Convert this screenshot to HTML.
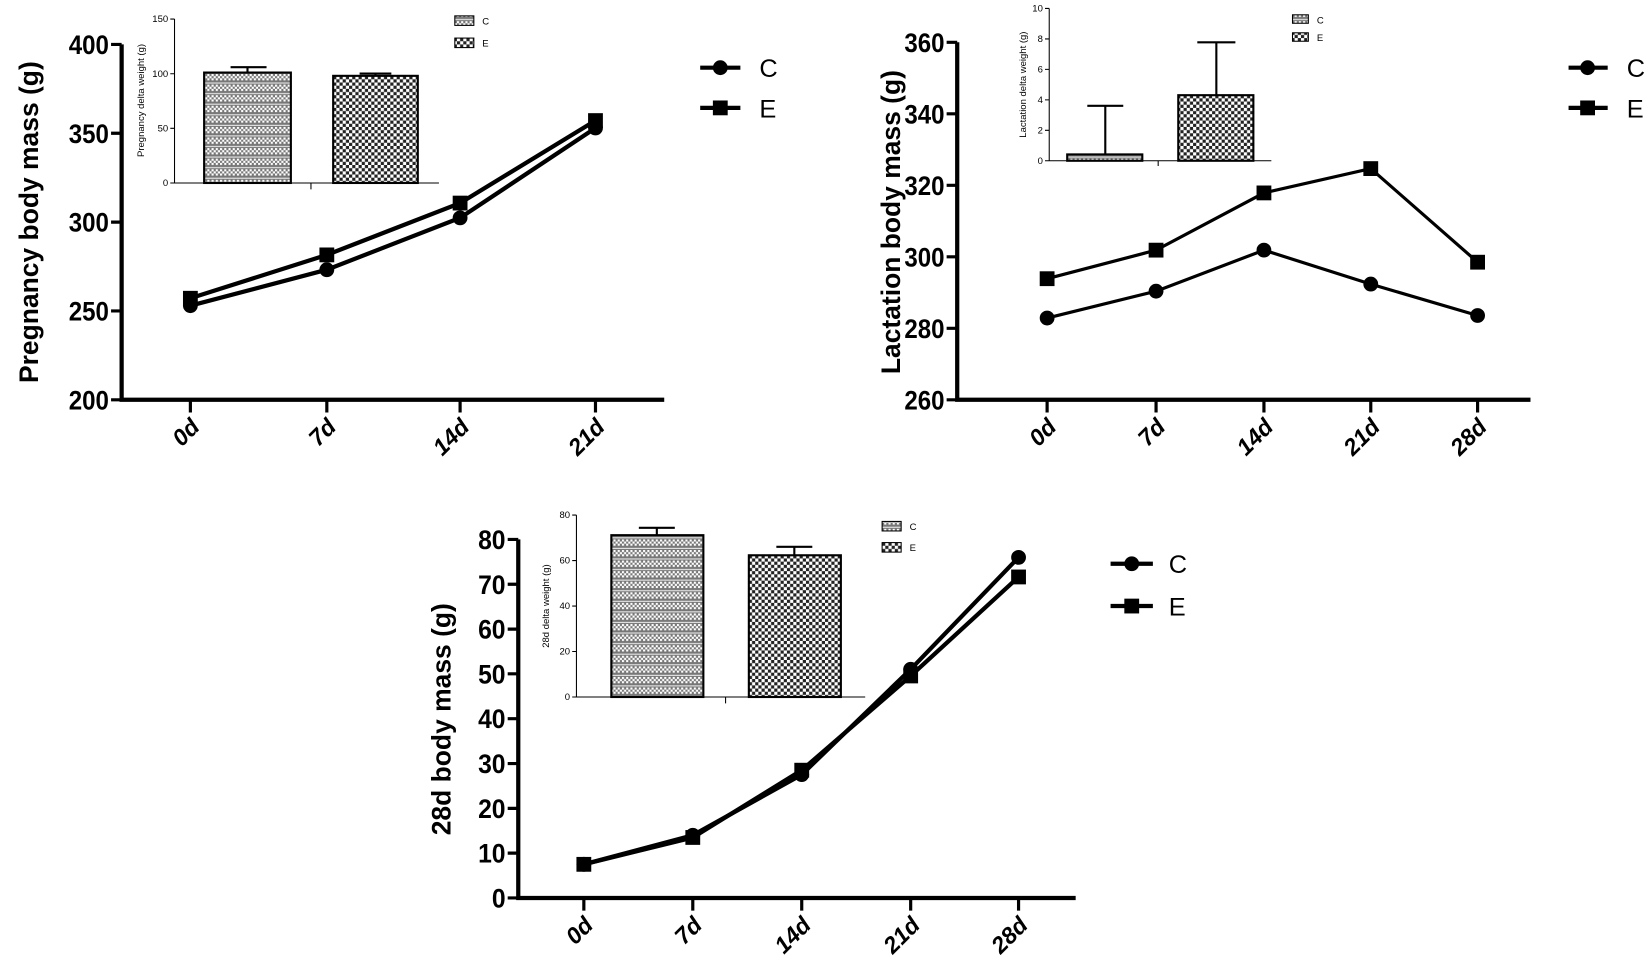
<!DOCTYPE html>
<html><head><meta charset="utf-8"><style>
html,body{margin:0;padding:0;background:#fff;}
svg{display:block;}
text{font-family:"Liberation Sans",Arial,sans-serif;fill:#000;}
.tk{font-size:25px;font-weight:bold;}
.xl{font-size:22px;font-weight:bold;font-style:italic;}
.ti{font-size:25px;font-weight:bold;}
.st{font-size:9px;}
.lg{font-size:24px;}
</style></head><body>
<svg width="1650" height="972" viewBox="0 0 1560 919" preserveAspectRatio="none" xmlns="http://www.w3.org/2000/svg">
<defs>
<pattern id="pc" width="4" height="10" patternUnits="userSpaceOnUse">
<rect width="4" height="10" fill="#777"/><rect x="0" y="0" width="2" height="2" fill="#fff"/><rect x="2" y="2" width="2" height="2" fill="#fff"/><rect x="0" y="4" width="2" height="2" fill="#fff"/><rect x="0" y="8" width="4" height="1" fill="#eee"/>
</pattern>
<pattern id="pe" width="6" height="6" patternUnits="userSpaceOnUse">
<rect width="6" height="6" fill="#222"/><rect x="0" y="0" width="3" height="3" fill="#fff"/><rect x="3" y="3" width="3" height="3" fill="#fff"/>
</pattern>
</defs>
<g stroke="#000" fill="none">
<path d="M115 42V378H628" stroke-width="4"/>
<path d="M105 42H115M105 126H115M105 210H115M105 294H115M105 378H115M180 378V390M309 378V390M435 378V390M563 378V390" stroke-width="3"/>
<polyline points="180,289 309,255 435,206 563,121" stroke-width="4"/>
<polyline points="180,282 309,241 435,192 563,114" stroke-width="4"/>
<path d="M165 18V173H415M161 18H165M161 69.7H165M161 121.3H165M161 173H165M294 173V179" stroke-width="1"/>
<rect x="193" y="68.6" width="82" height="104.4" fill="url(#pc)" stroke-width="2"/>
<rect x="315" y="71.7" width="80" height="101.3" fill="url(#pe)" stroke-width="2"/>
<path d="M234 68.6V63.5M218 63.5H252M355 71.7V69.5M340 69.5H370" stroke-width="2"/>
<path d="M905 40V378H1447" stroke-width="4"/>
<path d="M895 40H905M895 107.6H905M895 175.2H905M895 242.8H905M895 310.4H905M895 378H905M990 378V390M1093 378V390M1195 378V390M1296 378V390M1397 378V390" stroke-width="3"/>
<polyline points="990,300.7 1093,275.3 1195,236.5 1296,268.6 1397,298.3" stroke-width="3"/>
<polyline points="990,263.5 1093,236.5 1195,182.4 1296,159.4 1397,247.9" stroke-width="3"/>
<path d="M992 8V152H1202M988 8H992M988 36.8H992M988 65.6H992M988 94.4H992M988 123.2H992M988 152H992M1095 152V157" stroke-width="1"/>
<rect x="1009" y="146" width="71" height="6" fill="url(#pc)" stroke-width="2"/>
<rect x="1114" y="90" width="71" height="62" fill="url(#pe)" stroke-width="2"/>
<path d="M1045 146V100M1028 100H1062M1150 90V40M1132 40H1168" stroke-width="2"/>
<path d="M490 510V849H1017" stroke-width="4"/>
<path d="M480 510H490M480 552.4H490M480 594.8H490M480 637.1H490M480 679.5H490M480 721.9H490M480 764.3H490M480 806.6H490M480 849H490M552 849V861M655 849V861M758 849V861M861 849V861M963 849V861" stroke-width="3"/>
<polyline points="552,817.2 655,789.7 758,732.4 861,632.8 963,527" stroke-width="4"/>
<polyline points="552,817.2 655,791.8 758,728.2 861,639.1 963,545.5" stroke-width="4"/>
<path d="M545 487V659H818M541 487H545M541 530H545M541 573H545M541 616H545M541 659H545M686 659V665" stroke-width="1"/>
<rect x="578" y="506" width="87" height="153" fill="url(#pc)" stroke-width="2"/>
<rect x="708" y="525" width="87" height="134" fill="url(#pe)" stroke-width="2"/>
<path d="M621 506V499M604 499H638M751 525V517M734 517H768" stroke-width="2"/>
<path d="M662 64H700M662 102H700M1483 64H1520M1483 102H1520M1050 533H1090M1050 573H1090" stroke-width="4"/>
</g>
<g fill="#000">
<circle cx="180" cy="289" r="7"/><circle cx="309" cy="255" r="7"/><circle cx="435" cy="206" r="7"/><circle cx="563" cy="121" r="7"/>
<rect x="173" y="275" width="14" height="14"/><rect x="302" y="234" width="14" height="14"/><rect x="428" y="185" width="14" height="14"/><rect x="556" y="107" width="14" height="14"/>
<circle cx="990" cy="300.7" r="7"/><circle cx="1093" cy="275.3" r="7"/><circle cx="1195" cy="236.5" r="7"/><circle cx="1296" cy="268.6" r="7"/><circle cx="1397" cy="298.3" r="7"/>
<rect x="983" y="256.5" width="14" height="14"/><rect x="1086" y="229.5" width="14" height="14"/><rect x="1188" y="175.4" width="14" height="14"/><rect x="1289" y="152.4" width="14" height="14"/><rect x="1390" y="240.9" width="14" height="14"/>
<circle cx="552" cy="817.2" r="7"/><circle cx="655" cy="789.7" r="7"/><circle cx="758" cy="732.4" r="7"/><circle cx="861" cy="632.8" r="7"/><circle cx="963" cy="527" r="7"/>
<rect x="545" y="810.2" width="14" height="14"/><rect x="648" y="784.8" width="14" height="14"/><rect x="751" y="721.2" width="14" height="14"/><rect x="854" y="632.1" width="14" height="14"/><rect x="956" y="538.5" width="14" height="14"/>
<circle cx="681" cy="64" r="7"/><rect x="674" y="95" width="14" height="14"/>
<circle cx="1501" cy="64" r="7"/><rect x="1494" y="95" width="14" height="14"/>
<circle cx="1070" cy="533" r="7"/><rect x="1063" y="566" width="14" height="14"/>
</g>
<g stroke="#000" stroke-width="1">
<rect x="430" y="15" width="18" height="9" fill="url(#pc)"/><rect x="430" y="36" width="18" height="9" fill="url(#pe)"/>
<rect x="1222" y="14" width="15" height="8" fill="url(#pc)"/><rect x="1222" y="31" width="15" height="8" fill="url(#pe)"/>
<rect x="834" y="493" width="18" height="9" fill="url(#pc)"/><rect x="834" y="513" width="18" height="9" fill="url(#pe)"/>
</g>
<g class="st">
<text x="456" y="23">C</text><text x="456" y="44">E</text>
<text x="1245" y="22">C</text><text x="1245" y="39">E</text>
<text x="860" y="501">C</text><text x="860" y="521">E</text>
</g>
<g class="lg">
<text x="718" y="73">C</text><text x="718" y="111">E</text>
<text x="1538" y="73">C</text><text x="1538" y="111">E</text>
<text x="1105" y="542">C</text><text x="1105" y="582">E</text>
</g>
<g class="tk" text-anchor="end" lengthAdjust="spacingAndGlyphs">
<text x="103" y="51" textLength="38" lengthAdjust="spacingAndGlyphs">400</text><text x="103" y="135" textLength="38" lengthAdjust="spacingAndGlyphs">350</text><text x="103" y="219" textLength="38" lengthAdjust="spacingAndGlyphs">300</text><text x="103" y="303" textLength="38" lengthAdjust="spacingAndGlyphs">250</text><text x="103" y="387" textLength="38" lengthAdjust="spacingAndGlyphs">200</text>
<text x="893" y="49" textLength="38" lengthAdjust="spacingAndGlyphs">360</text><text x="893" y="116.6" textLength="38" lengthAdjust="spacingAndGlyphs">340</text><text x="893" y="184.2" textLength="38" lengthAdjust="spacingAndGlyphs">320</text><text x="893" y="251.8" textLength="38" lengthAdjust="spacingAndGlyphs">300</text><text x="893" y="319.4" textLength="38" lengthAdjust="spacingAndGlyphs">280</text><text x="893" y="387" textLength="38" lengthAdjust="spacingAndGlyphs">260</text>
<text x="478" y="519" textLength="26" lengthAdjust="spacingAndGlyphs">80</text><text x="478" y="561.4" textLength="26" lengthAdjust="spacingAndGlyphs">70</text><text x="478" y="603.8" textLength="26" lengthAdjust="spacingAndGlyphs">60</text><text x="478" y="646.1" textLength="26" lengthAdjust="spacingAndGlyphs">50</text><text x="478" y="688.5" textLength="26" lengthAdjust="spacingAndGlyphs">40</text><text x="478" y="730.9" textLength="26" lengthAdjust="spacingAndGlyphs">30</text><text x="478" y="773.3" textLength="26" lengthAdjust="spacingAndGlyphs">20</text><text x="478" y="815.6" textLength="26" lengthAdjust="spacingAndGlyphs">10</text><text x="478" y="858" textLength="13" lengthAdjust="spacingAndGlyphs">0</text>
</g>
<g class="st" text-anchor="end">
<text x="159" y="21">150</text><text x="159" y="72.7">100</text><text x="159" y="124.3">50</text><text x="159" y="176">0</text>
<text x="986" y="11">10</text><text x="986" y="39.8">8</text><text x="986" y="68.6">6</text><text x="986" y="97.4">4</text><text x="986" y="126.2">2</text><text x="986" y="155">0</text>
<text x="539" y="490">80</text><text x="539" y="533">60</text><text x="539" y="576">40</text><text x="539" y="619">20</text><text x="539" y="662">0</text>
</g>
<g class="xl" text-anchor="end">
<text transform="translate(190,405) rotate(-45)">0d</text>
<text transform="translate(319,405) rotate(-45)">7d</text>
<text transform="translate(445,405) rotate(-45)">14d</text>
<text transform="translate(573,405) rotate(-45)">21d</text>
<text transform="translate(1000,405) rotate(-45)">0d</text>
<text transform="translate(1103,405) rotate(-45)">7d</text>
<text transform="translate(1205,405) rotate(-45)">14d</text>
<text transform="translate(1306,405) rotate(-45)">21d</text>
<text transform="translate(1407,405) rotate(-45)">28d</text>
<text transform="translate(562,876) rotate(-45)">0d</text>
<text transform="translate(665,876) rotate(-45)">7d</text>
<text transform="translate(768,876) rotate(-45)">14d</text>
<text transform="translate(871,876) rotate(-45)">21d</text>
<text transform="translate(973,876) rotate(-45)">28d</text>
</g>
<g class="ti" text-anchor="middle">
<text transform="translate(36,210) rotate(-90)">Pregnancy body mass (g)</text>
<text transform="translate(851,210) rotate(-90)">Lactation body mass (g)</text>
<text transform="translate(426,680) rotate(-90)">28d body mass (g)</text>
</g>
<g class="st" text-anchor="middle">
<text transform="translate(136,95) rotate(-90)">Pregnancy delta weight (g)</text>
<text transform="translate(970,80) rotate(-90)">Lactation delta weight (g)</text>
<text transform="translate(519,573) rotate(-90)">28d delta weight (g)</text>
</g>
</svg>
</body></html>
